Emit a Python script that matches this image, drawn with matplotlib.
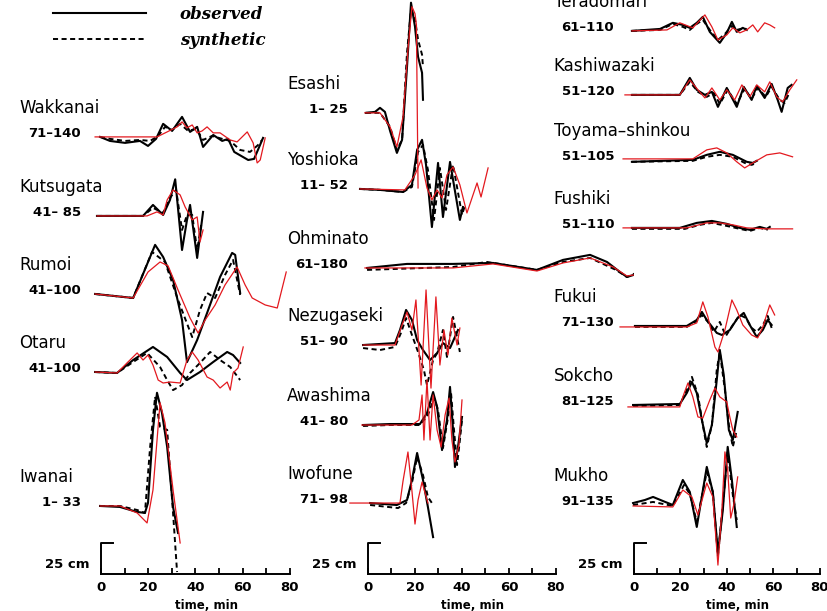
import matplotlib
matplotlib.use("Agg")
import matplotlib.pyplot as plt
from matplotlib.font_manager import FontProperties

# --- Pegel: (Zeit [min], Amplitude [cm]) ---
# obs = beobachtet (schwarz), syn = synthetisch (gestrichelt), red = rotes Modell

wakkanai_obs = [(-0.4, 0), (3.8, -3.3), (10.2, -4.9), (16.5, -3.3), (19.9, -7.4), (23.3, -1.6), (26.3, 10.7),
                (30.1, 4.9), (34.3, 16.4), (37.7, 4.1), (40.7, 8.2), (43.2, -8.2), (47.5, 1.6), (51.3, -3.3),
                (53.8, -1.6), (56.4, -12.3), (62.3, -18.9), (64.8, -18), (68.6, -0.8)]
wakkanai_syn = [(-0.4, 0), (3.8, -1.6), (10.2, -3.3), (16.5, -2.5), (20.8, -3.3), (24.2, 0.8), (27.1, 8.2),
                (30.1, 5.7), (33.5, 10.7), (36.9, 4.9), (40.3, 6.6), (43.2, -2.5), (47.0, 0.8), (51.3, -1.6),
                (54.7, -3.3), (58.9, -10.7), (63.1, -12.3), (66.5, -6.6), (68.2, -2.5)]
wakkanai_red = [(-2.5, 0), (23.7, 0), (28.0, 4.1), (32.2, 8.2), (34.3, 12.3), (36.4, 7.4), (38.6, 9.8),
                (40.7, 3.3), (42.8, 4.9), (44.9, 8.2), (47.5, 3.3), (50.4, 3.3), (54.7, -2.5), (57.6, -4.1),
                (61.9, 4.1), (64.4, -4.9), (66.1, -21.3), (67.4, -18.9), (69.5, -0.8)]

kutsugata_obs = [(-1.7, 0), (17.8, 0), (22.0, 9.0), (26.3, 0.8), (29.2, 13.1), (31.4, 30.0), (34.3, -27.9),
                 (36.4, -3.3), (37.7, 9.0), (40.7, -34.4), (43.2, 3.3)]
kutsugata_syn = [(-1.7, 0), (17.8, 0), (22.0, 6.6), (26.3, 2.5), (29.2, 14.8), (31.8, 21.3), (34.3, -11.5),
                 (36.4, 0.8), (38.6, 0.8), (40.7, -27.9), (42.4, -7.4)]
kutsugata_red = [(-1.7, 0), (19.5, 0), (23.7, 3.3), (26.3, 0.8), (28.0, 13.1), (30.5, 21.3), (33.5, 17.2),
                 (35.6, 7.4), (38.6, -3.3), (40.7, -0.8), (41.9, -21.3), (43.2, -11.5)]

rumoi_obs = [(-2.5, 0), (13.6, -3.3), (22.9, 40.2), (26.3, 30.3), (30.5, 11.5), (34.3, -21.3), (36.4, -55.8),
             (40.7, -37.7), (44.9, -15.6), (50.4, 13.9), (55.5, 33.6), (56.8, 32.0), (58.9, 0.8)]
rumoi_syn = [(-2.5, 0), (13.6, -3.3), (21.6, 34.4), (27.1, 26.2), (32.6, -4.9), (38.6, -35.3), (41.9, -13.1),
             (44.9, 0.8), (48.3, -3.3), (52.5, 15.6), (55.9, 27.9), (58.9, -0.8)]
rumoi_red = [(-2.5, 0), (13.6, -3.3), (19.9, 18.0), (25.0, 26.2), (28.4, 23.0), (32.6, 3.3), (37.7, -19.7),
             (41.1, -32.0), (44.1, -21.3), (48.3, -9.0), (52.5, 7.4), (57.6, 22.1), (61.0, 7.4), (64.0, -3.3),
             (69.5, -9.0), (74.6, -11.5), (78.4, 18.0)]

otaru_obs = [(-2.5, 0), (6.8, -0.8), (13.6, 9.8), (22.0, 20.5), (28.0, 12.3), (33.5, -0.8), (36.4, -6.6),
             (41.9, 0), (47.5, 8.2), (53.4, 16.4), (55.9, 13.9), (58.9, 7.4)]
otaru_syn = [(-2.5, 0), (6.8, -0.8), (13.6, 8.2), (19.5, 15.6), (25.0, 4.1), (28.0, -6.6), (30.5, -14.8),
             (34.3, -10.7), (37.7, -0.8), (41.9, 7.4), (46.2, 16.4), (50.4, 9.8), (54.7, 4.1), (58.9, -6.6)]
otaru_red = [(-2.5, 0), (6.8, -0.8), (11.0, 7.4), (15.3, 15.6), (17.8, 9.8), (19.9, 13.9), (22.0, 5.7),
             (24.2, -6.6), (26.3, -9.0), (29.2, -8.2), (33.5, -9.0), (36.4, 9.8), (38.6, 16.4), (41.1, 9.8),
             (44.9, -4.1), (47.5, -6.6), (50.4, -13.1), (53.4, -8.2), (54.7, -14.8), (55.9, -0.8), (58.0, 3.3),
             (60.2, 20.5)]

iwanai_obs = [(-0.4, 0), (8.0, -0.8), (15.3, -4.9), (18.6, -5.7), (19.9, 2.5), (22.0, 62.3), (23.7, 92.7),
              (25.8, 76.3), (28.0, 48.4), (30.5, -0.8), (32.6, -22.1)]
iwanai_syn = [(-0.4, 0), (8.0, 0), (15.3, -3.3), (18.6, -5.7), (20.8, 48.4), (22.9, 89.4), (25.0, 64.8),
              (28.0, 62.3), (30.5, -5.7), (32.2, -54.1)]
iwanai_red = [(-0.4, 0), (8.0, 0), (15.3, -5.7), (19.5, -13.9), (22.0, 13.1), (25.0, 84.5), (27.1, 68.0),
              (30.5, 13.1), (33.5, -30.3)]

esashi_obs = [(-0.9, 0), (3.0, 0.8), (5.1, 4.1), (7.2, 0.8), (9.4, -14.8), (12.3, -32.8), (14.5, -22.1),
              (16.6, 37.7), (18.3, 90.2), (20.0, 70.5), (21.3, 45.9), (23.0, 32.8), (23.4, 10.7)]
esashi_syn = [(-0.9, 0), (5.1, 0), (9.4, -11.5), (12.3, -30.3), (14.5, -22.1), (16.6, 49.2), (18.3, 84.5),
              (20.0, 76.3), (21.3, 59.9), (23.0, 47.6), (23.4, 37.7)]
esashi_red = [(-1.3, 0), (5.1, 0), (9.4, -11.5), (12.3, -27.9), (14.9, -3.3), (17.0, 51.7), (18.7, 86.9),
              (20.0, 81.2), (20.6, 72.0), (21.3, -61.5)]

yoshioka_obs = [(-3.4, 0), (5.1, -0.8), (14.9, -2.5), (18.7, 3.3), (20.9, 32.0), (23.0, 40.2), (24.7, 19.7),
                (27.2, -31.2), (29.8, 21.3), (31.9, -23.0), (34.9, 22.1), (39.1, -25.4), (40.4, -14.8)]
yoshioka_syn = [(-3.4, 0), (5.1, -0.8), (14.9, -2.5), (18.7, 1.6), (21.3, 30.3), (23.4, 36.1), (25.5, 15.6),
                (28.1, -25.4), (30.6, 17.2), (33.2, -17.2), (36.2, 19.7), (40.0, -21.3), (41.3, -13.1)]
yoshioka_red = [(-3.4, 0), (15.7, -0.8), (20.0, 11.5), (22.6, 23.8), (25.1, 0.8), (27.2, -9.0), (29.4, -0.8),
                (31.5, -7.4), (33.6, 11.5), (36.2, 18.0), (39.1, 3.3), (42.1, -19.7), (46.4, 4.9), (48.1, -6.6),
                (51.1, 17.2)]

ohminato_obs = [(-0.4, 0), (16.6, 3.3), (36.2, 3.3), (53.2, 4.1), (71.9, -1.6), (83.0, 6.6), (94.5, 10.7),
                (101.7, 4.9), (107.2, -3.3), (110.2, -7.4), (115.7, -4.1), (117.9, -1.6)]
ohminato_syn = [(-0.4, -1.6), (36.2, 0.8), (50.6, 4.9), (71.9, -1.6), (83.0, 4.9), (94.5, 8.2), (105.5, -1.6),
                (110.2, -7.4), (117.9, -0.8)]
ohminato_red = [(-1.3, 0), (36.2, 0), (53.2, 3.3), (71.9, -2.5), (83.0, 4.1), (94.5, 8.2), (104.3, 0.8),
                (110.2, -6.6), (118.7, -4.1)]

nezugaseki_obs = [(-2.1, 0), (11.5, 1.6), (13.6, 12.3), (16.2, 28.7), (18.7, 20.5), (20.9, 4.1), (23.4, -4.1),
                  (26.4, -12.3), (29.4, -6.6), (31.9, 1.6), (34.9, -2.5), (37.0, 6.6), (38.3, 12.3)]
nezugaseki_syn = [(-2.1, -2.5), (5.1, -4.1), (11.5, -1.6), (14.0, 9.8), (16.2, 22.1), (18.7, 8.2), (21.3, -5.7),
                  (23.8, -20.5), (25.1, -32.8), (27.7, -12.3), (29.4, -6.6), (31.9, 12.3), (33.6, -9.8),
                  (36.2, 23.0), (39.1, -5.7)]
nezugaseki_red = [(-2.1, 0), (11.5, 0), (14.5, 16.4), (16.6, 27.0), (18.7, 12.3), (20.4, 36.9), (22.6, -32.8),
                  (24.7, 45.1), (26.8, -35.3), (28.9, 39.4), (30.6, -16.4), (32.3, 12.3), (34.0, -8.2),
                  (35.7, 22.1), (37.9, 0), (39.1, 13.9)]

awashima_obs = [(-2.1, 0), (9.4, 0.8), (22.1, 0.8), (25.1, 9.8), (27.7, 27.0), (29.4, 14.8), (31.5, -20.5),
                (33.6, 4.1), (34.9, 31.2), (36.2, -4.1), (37.0, -34.4), (38.3, -18.0), (40.0, 6.6)]
awashima_syn = [(-2.1, -0.8), (9.4, 0), (22.1, 0), (25.5, 8.2), (28.1, 22.1), (29.8, 12.3), (31.9, -18.9),
                (34.0, 5.7), (35.3, 27.0), (36.6, -4.1), (37.9, -32.8), (39.1, -12.3), (40.0, 4.1)]
awashima_red = [(-2.6, 0), (18.7, 0), (21.7, 4.1), (23.0, 24.6), (23.8, -12.3), (25.1, 36.9), (26.4, -12.3),
                (27.7, 24.6), (29.4, -4.1), (31.1, -18.0), (32.8, 8.2), (34.5, 22.1), (35.7, -12.3),
                (37.0, -30.3), (38.7, -16.4), (40.0, 20.5)]

iwofune_obs = [(0.9, 0), (12.3, -1.6), (16.6, 2.5), (18.7, 18.9), (20.9, 41.0), (23.4, 18.9), (25.5, -3.3),
               (27.7, -27.9)]
iwofune_syn = [(0.9, -1.6), (12.8, -4.1), (16.2, 0), (18.7, 16.4), (20.9, 37.7), (23.4, 23.0), (25.5, 4.9),
               (27.2, 0)]
iwofune_red = [(-7.7, 0), (13.6, 0), (14.9, 18.0), (17.0, 41.8), (18.7, 9.8), (20.0, -17.2), (21.3, 2.5),
               (23.0, 17.2), (24.3, 8.2), (25.5, 0)]

teradomari_obs = [(-0.9, 0), (11.2, 1.6), (16.7, 6.6), (21.0, 4.9), (24.0, 2.5), (27.0, 6.6), (29.6, 11.5),
                  (32.6, -0.8), (36.9, -9.8), (39.9, -1.6), (42.1, 7.4), (44.2, -0.8), (46.8, 2.5), (48.5, 0.8)]
teradomari_syn = [(-0.9, 0), (11.2, 0.8), (16.7, 5.7), (21.0, 3.3), (24.0, 0.8), (27.0, 5.7), (29.6, 9.0),
                  (32.6, 0.8), (36.1, -7.4), (39.1, -2.5), (42.1, 4.1), (44.2, 0.8), (47.6, 2.5), (48.5, 0.8)]
teradomari_red = [(-0.9, 0), (14.2, 0.8), (19.7, 6.6), (25.3, 2.5), (30.5, 13.1), (33.5, 3.3), (36.1, -7.4),
                  (39.9, -3.3), (42.5, 2.5), (45.5, -1.6), (48.5, 0.8), (51.1, 4.9), (53.2, -0.8), (56.2, 6.6),
                  (58.4, 4.9), (60.5, 2.5)]

kashiwazaki_obs = [(-0.9, 0), (19.7, 0), (24.0, 13.9), (27.0, 4.1), (30.5, 0), (33.5, 2.5), (36.1, -9.8),
                   (39.9, 5.7), (44.2, -9.8), (47.2, 6.6), (50.6, -4.1), (52.8, 7.4), (56.2, -2.5), (59.2, 9.0),
                   (61.8, -4.1), (63.5, -13.9), (66.1, 5.7), (67.8, 8.2)]
kashiwazaki_syn = [(-0.9, 0), (19.7, 0), (24.0, 10.7), (27.5, 2.5), (31.3, -1.6), (34.3, 1.6), (36.9, -7.4),
                   (40.3, 4.1), (44.2, -7.4), (47.6, 4.9), (50.6, -3.3), (53.2, 5.7), (56.7, -1.6), (59.2, 6.6),
                   (62.7, -4.1), (64.8, -6.6), (67.0, 2.5)]
kashiwazaki_red = [(-3.9, 0), (19.7, 0), (24.0, 12.3), (27.5, 4.1), (30.5, -2.5), (33.5, 5.7), (36.9, -4.1),
                   (39.9, 4.1), (43.3, -4.1), (46.4, 8.2), (49.8, -1.6), (52.8, 8.2), (56.2, 2.5), (58.4, 10.7),
                   (61.4, -1.6), (63.9, -5.7), (67.0, 4.1), (70.0, 12.3)]

toyama_obs = [(-0.9, -1.6), (25.3, 0), (31.3, 4.1), (36.9, 6.6), (42.5, 4.1), (48.5, -1.6), (51.1, -2.5),
              (52.8, -0.8)]
toyama_syn = [(-0.9, -1.6), (25.3, -0.8), (31.3, 2.5), (36.9, 4.1), (42.5, 2.5), (47.6, -2.5), (50.6, -4.1),
              (52.8, -2.5)]
toyama_red = [(-4.7, 0.8), (25.3, 0.8), (31.3, 8.2), (35.6, 9.8), (39.9, 5.7), (44.2, -1.6), (47.6, -6.6),
              (51.1, -2.5), (57.1, 4.1), (62.7, 5.7), (68.2, 2.5)]

fushiki_obs = [(-0.9, 0), (19.7, 0), (27.0, 4.1), (33.5, 5.7), (39.9, 3.3), (45.5, 0), (49.8, -1.6),
               (54.1, 0.8), (57.1, -0.8), (58.4, 0.8)]
fushiki_syn = [(-0.9, -0.8), (21.9, -0.8), (28.3, 2.5), (33.5, 4.1), (39.9, 1.6), (45.5, -0.8), (49.8, -2.5),
               (54.1, 0), (57.5, -1.6)]
fushiki_red = [(-4.7, 0), (22.7, 0), (31.3, 4.1), (36.9, 4.1), (42.5, 2.5), (48.5, 0), (57.1, -0.8),
               (62.7, -0.8), (68.2, -0.8)]

fukui_obs = [(0.4, 0), (22.7, 0), (27.0, 4.9), (29.2, 11.5), (31.3, 4.9), (35.6, -5.7), (37.8, -7.4),
             (41.2, -3.3), (44.6, 6.6), (47.2, 10.7), (49.8, 0.8), (52.8, -9.0), (55.4, -3.3), (57.5, 4.9),
             (59.2, 0.8)]
fukui_syn = [(0.4, -0.8), (22.7, -0.8), (27.0, 4.1), (29.2, 9.0), (31.8, 3.3), (34.3, -4.9), (36.9, 3.3),
             (39.5, -8.2), (42.5, 0.8), (45.5, 9.0), (48.1, 6.6), (50.6, -1.6), (52.8, -4.9), (55.4, 0.8),
             (57.5, 8.2), (59.2, -1.6)]
fukui_red = [(-6.0, -0.8), (22.7, -0.8), (27.0, 2.5), (29.6, 19.7), (31.8, 7.4), (34.8, -17.2), (36.1, -21.3),
             (39.1, -3.3), (42.1, 21.3), (44.2, 13.1), (46.8, 0.8), (50.6, -7.4), (53.2, -9.8), (55.4, -0.8),
             (58.4, 17.2), (60.5, 9.0)]

sokcho_obs = [(-0.4, 0), (19.7, 0.8), (22.7, 9.8), (24.9, 18.9), (27.0, 9.8), (29.2, -12.3), (31.3, -31.2),
              (33.5, -16.4), (35.6, 20.5), (36.9, 45.1), (38.6, 24.6), (40.8, -20.5), (42.5, -28.7), (44.6, -5.7)]
sokcho_syn = [(-0.4, -0.8), (19.7, 0), (22.7, 12.3), (24.9, 23.0), (27.5, 8.2), (29.6, -16.4), (31.3, -34.4),
              (33.5, -16.4), (35.6, 28.7), (36.9, 43.5), (39.1, 12.3), (40.8, -16.4), (42.5, -34.4),
              (44.2, -20.5)]
sokcho_red = [(-2.6, -1.6), (19.7, -1.6), (21.0, 6.6), (23.2, 18.0), (25.3, 6.6), (27.5, -9.8), (29.6, -10.7),
              (32.6, 4.1), (34.8, 13.9), (36.9, 6.6), (39.9, 2.5), (41.2, -9.8), (42.5, -20.5), (44.2, -26.2)]

mukho_obs = [(-0.4, 1.6), (4.7, 4.1), (8.2, 6.6), (12.4, 3.3), (16.7, 0), (21.0, 20.5), (24.0, 10.7),
             (27.0, -18.0), (31.3, 31.2), (33.9, 10.7), (36.1, -39.4), (38.2, -4.1), (40.3, 47.6), (42.1, 20.5),
             (44.2, -18.0)]
mukho_syn = [(-0.4, 0), (8.2, 2.5), (16.7, -0.8), (21.5, 16.4), (24.0, 9.0), (27.0, -13.9), (31.3, 27.1),
             (33.9, 10.7), (36.1, -41.8), (38.2, 0), (40.3, 43.5), (42.5, 8.2), (44.2, -12.3)]
mukho_red = [(-0.4, -0.8), (16.7, -1.6), (21.0, 12.3), (24.9, 6.6), (27.5, -8.2), (31.3, 18.0), (33.9, 6.6),
             (36.1, -49.2), (37.8, -4.1), (39.1, 43.5), (40.3, 28.7), (41.6, -10.7), (42.9, 0), (44.6, 23.0)]

# Stationen je Spalte: Name, Zeitfenster, Kurven
station_names = [
    ["Wakkanai", "Kutsugata", "Rumoi", "Otaru", "Iwanai"],
    ["Esashi", "Yoshioka", "Ohminato", "Nezugaseki", "Awashima", "Iwofune"],
    ["Teradomari", "Kashiwazaki", "Toyama\u2013shinkou", "Fushiki", "Fukui", "Sokcho", "Mukho"],
]
station_windows = [
    ["71\u2013140", "41\u2013 85", "41\u2013100", "41\u2013100", "1\u2013 33"],
    ["1\u2013 25", "11\u2013 52", "61\u2013180", "51\u2013 90", "41\u2013 80", "71\u2013 98"],
    ["61\u2013110", "51\u2013120", "51\u2013105", "51\u2013110", "71\u2013130", "81\u2013125", "91\u2013135"],
]
station_curves = [
    [(wakkanai_obs, wakkanai_syn, wakkanai_red), (kutsugata_obs, kutsugata_syn, kutsugata_red),
     (rumoi_obs, rumoi_syn, rumoi_red), (otaru_obs, otaru_syn, otaru_red), (iwanai_obs, iwanai_syn, iwanai_red)],
    [(esashi_obs, esashi_syn, esashi_red), (yoshioka_obs, yoshioka_syn, yoshioka_red),
     (ohminato_obs, ohminato_syn, ohminato_red), (nezugaseki_obs, nezugaseki_syn, nezugaseki_red),
     (awashima_obs, awashima_syn, awashima_red), (iwofune_obs, iwofune_syn, iwofune_red)],
    [(teradomari_obs, teradomari_syn, teradomari_red), (kashiwazaki_obs, kashiwazaki_syn, kashiwazaki_red),
     (toyama_obs, toyama_syn, toyama_red), (fushiki_obs, fushiki_syn, fushiki_red),
     (fukui_obs, fukui_syn, fukui_red), (sokcho_obs, sokcho_syn, sokcho_red), (mukho_obs, mukho_syn, mukho_red)],
]

# --- Layout (Position der Nulllinien ueber der Zeitachse, in cm) ---
baseline_cm = [
    [357.9, 293.2, 229.3, 165.4, 55.7],
    [377.6, 315.3, 250.6, 187.5, 122.0, 58.1],
    [444.7, 392.3, 339.1, 283.4, 203.1, 138.4, 56.5],
]
col_rect = [(101, 189), (368, 188), (634, 186)]  # linker Rand / Breite in Pixel
W, H = 828, 611
AXIS_PX = 574
SCALE_CM = 25

RED = "#e3191f"

fig = plt.figure(figsize=(W / 100, H / 100), dpi=100)

name_font = dict(family="DejaVu Sans", fontsize=12)
win_font = dict(family="DejaVu Sans", fontsize=9.5, fontweight="bold")

legend_handles = None
for c in range(3):
    x0, w = col_rect[c]
    ax = fig.add_axes([x0 / W, (H - AXIS_PX) / H, w / W, AXIS_PX / H])
    ax.set_xlim(0, 80)
    ax.set_ylim(0, 470)
    for s in ["left", "right", "top"]:
        ax.spines[s].set_visible(False)
    ax.spines["bottom"].set_linewidth(1.4)
    ax.set_yticks([])
    ax.set_xticks([0, 20, 40, 60, 80])
    ax.set_xticks([10, 30, 50, 70], minor=True)
    ax.tick_params(axis="x", which="both", direction="in", length=4.5, width=1.3, pad=5)
    for lab in ax.get_xticklabels():
        lab.set_fontweight("bold")
        lab.set_fontsize(9.5)

    for k, name in enumerate(station_names[c]):
        base = baseline_cm[c][k]
        obs, syn, red = station_curves[c][k]
        l1, = ax.plot([p[0] for p in obs], [base + p[1] for p in obs], color="black", lw=1.5,
                      solid_joinstyle="round", clip_on=False)
        l2, = ax.plot([p[0] for p in syn], [base + p[1] for p in syn], color="black", lw=1.4,
                      ls=(0, (2.6, 1.8)), clip_on=False)
        ax.plot([p[0] for p in red], [base + p[1] for p in red], color=RED, lw=0.9,
                solid_joinstyle="round", clip_on=False, zorder=3)
        if legend_handles is None:
            legend_handles = [l1, l2]
        ax.text(-34.5, base + 24, name, ha="left", va="center", clip_on=False, **name_font)
        ax.text(-8.5, base + 2.5, station_windows[c][k], ha="right", va="center", clip_on=False, **win_font)

    # Massstab 25 cm
    ax.plot([0, 0, 5], [0, SCALE_CM, SCALE_CM], color="black", lw=1.4, clip_on=False)
    ax.text(-5, 7.5, "25 cm", ha="right", va="center", fontsize=9.5, fontweight="bold", clip_on=False)
    ax.text(44.5, -25.5, "time, min", ha="center", va="center", fontsize=8.5, fontweight="bold", clip_on=False)

fig.legend(legend_handles, ["observed", "synthetic"], loc="upper left",
           bbox_to_anchor=(53 / W, 1 - 6 / H), frameon=False, handlelength=5.6, handletextpad=2.0,
           labelspacing=0.55, borderpad=0, borderaxespad=0,
           prop=FontProperties(family="DejaVu Serif", style="italic", weight="bold", size=12))

fig.savefig("out.png", dpi=100)
